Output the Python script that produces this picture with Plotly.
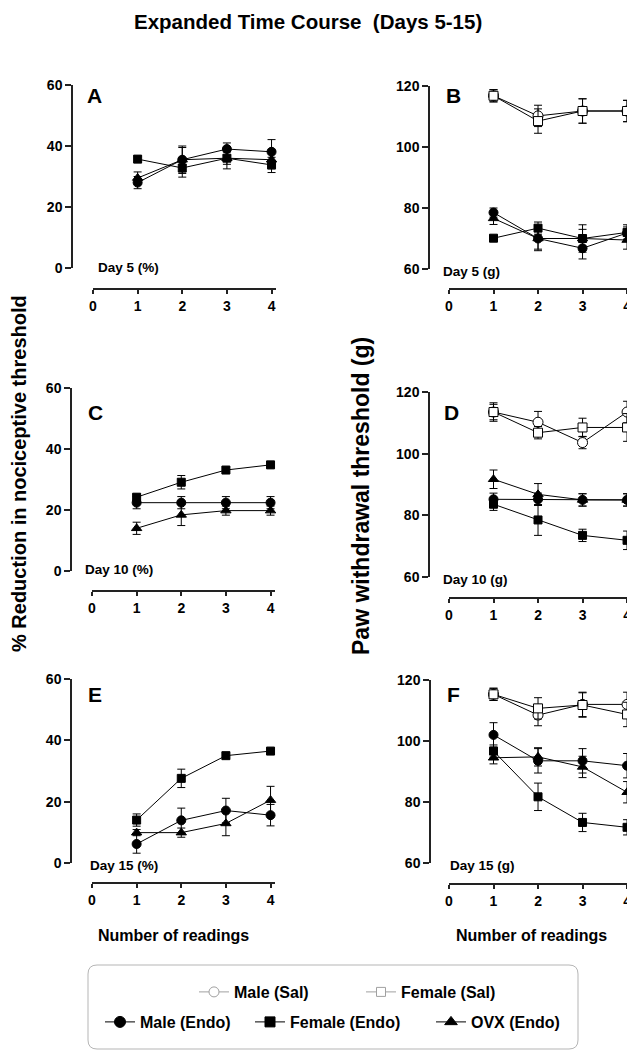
import plotly.graph_objects as go

# ---- data ----
readings = [1, 2, 3, 4]
x_ticks = [0, 1, 2, 3, 4]
series = ["Male (Sal)", "Female (Sal)", "Male (Endo)", "Female (Endo)", "OVX (Endo)"]

# A: Day 5 (%)
a_male_endo = [28.0, 35.5, 39.0, 38.1]
a_male_endo_err = [2.0, 4.5, 2.0, 4.0]
a_female_endo = [35.7, 32.8, 36.0, 33.8]
a_female_endo_err = [1.0, 3.0, 3.5, 2.5]
a_ovx_endo = [29.5, 35.5, 36.0, 35.5]
a_ovx_endo_err = [2.0, 4.0, 2.0, 3.0]

# B: Day 5 (g)
b_male_sal = [116.8, 110.2, 111.8, 111.8]
b_male_sal_err = [2.0, 3.5, 4.0, 3.5]
b_female_sal = [116.8, 108.5, 111.8, 111.8]
b_female_sal_err = [2.0, 4.0, 4.0, 3.5]
b_male_endo = [78.5, 70.0, 66.8, 71.8]
b_male_endo_err = [1.5, 4.0, 3.5, 2.0]
b_female_endo = [70.1, 73.4, 70.0, 72.0]
b_female_endo_err = [0.5, 2.0, 4.5, 2.5]
b_ovx_endo = [76.6, 70.0, 70.0, 69.5]
b_ovx_endo_err = [2.0, 3.5, 3.0, 3.0]

# C: Day 10 (%)
c_male_endo = [22.4, 22.4, 22.4, 22.4]
c_male_endo_err = [2.0, 2.0, 2.0, 2.0]
c_female_endo = [24.2, 29.1, 33.1, 34.8]
c_female_endo_err = [1.0, 2.2, 0.7, 1.0]
c_ovx_endo = [14.0, 18.4, 19.8, 19.8]
c_ovx_endo_err = [2.0, 3.5, 1.5, 1.5]

# D: Day 10 (g)
d_male_sal = [113.5, 110.2, 103.6, 113.5]
d_male_sal_err = [3.0, 3.5, 2.0, 3.5]
d_female_sal = [113.5, 106.8, 108.5, 108.5]
d_female_sal_err = [2.5, 2.0, 3.0, 4.5]
d_male_endo = [85.2, 85.2, 85.0, 85.0]
d_male_endo_err = [2.0, 2.0, 2.0, 2.0]
d_female_endo = [83.6, 78.5, 73.5, 71.9]
d_female_endo_err = [2.0, 5.0, 2.0, 3.0]
d_ovx_endo = [91.7, 86.8, 85.0, 85.0]
d_ovx_endo_err = [3.0, 3.5, 2.0, 2.0]

# E: Day 15 (%)
e_male_endo = [6.2, 13.9, 17.1, 15.6]
e_male_endo_err = [3.0, 4.0, 4.0, 3.5]
e_female_endo = [14.0, 27.6, 35.0, 36.5]
e_female_endo_err = [2.0, 3.0, 1.0, 0.8]
e_ovx_endo = [9.9, 9.9, 12.9, 20.5]
e_ovx_endo_err = [1.0, 1.5, 4.0, 4.5]

# F: Day 15 (g)
f_male_sal = [115.3, 108.5, 112.0, 112.0]
f_male_sal_err = [2.0, 3.5, 4.0, 4.0]
f_female_sal = [115.3, 110.7, 111.8, 108.7]
f_female_sal_err = [2.0, 3.5, 4.0, 4.0]
f_male_endo = [102.0, 93.5, 93.5, 91.9]
f_male_endo_err = [4.0, 4.0, 4.0, 4.0]
f_female_endo = [96.7, 81.7, 73.3, 71.7]
f_female_endo_err = [2.0, 4.5, 3.0, 2.5]
f_ovx_endo = [94.5, 94.8, 91.5, 83.2]
f_ovx_endo_err = [2.0, 3.0, 3.5, 3.5]

W, H = 635, 1050
OFF = 8  # page body margin
FONT = "Liberation Sans"


def fx(p):
    return (p - OFF) / W


def fy(p):
    return 1 - (p - OFF) / H


def bold(size):
    return dict(family=FONT, size=size, color="black", weight="bold")


styles = {
    "Male (Sal)": dict(symbol="circle", color="white", size=10),
    "Female (Sal)": dict(symbol="square", color="white", size=9),
    "Male (Endo)": dict(symbol="circle", color="black", size=9),
    "Female (Endo)": dict(symbol="square", color="black", size=8),
    "OVX (Endo)": dict(symbol="triangle-up", color="black", size=9),
}

# letter, day label, x-domain px, y-domain px (bottom, top), y-axis px, x-axis px,
# y range, letter pos, day label pos, data
panels = [
    ("A", "Day 5 (%)", (93, 276), (268, 85), 72, 289, [0, 60], (85, 95), (96, 267),
     {"Male (Endo)": (a_male_endo, a_male_endo_err),
      "Female (Endo)": (a_female_endo, a_female_endo_err),
      "OVX (Endo)": (a_ovx_endo, a_ovx_endo_err)}),
    ("B", "Day 5 (g)", (449, 631.5), (269, 86), 429, 289, [60, 120], (444, 95), (441, 271),
     {"Male (Sal)": (b_male_sal, b_male_sal_err),
      "Female (Sal)": (b_female_sal, b_female_sal_err),
      "Male (Endo)": (b_male_endo, b_male_endo_err),
      "Female (Endo)": (b_female_endo, b_female_endo_err),
      "OVX (Endo)": (b_ovx_endo, b_ovx_endo_err)}),
    ("C", "Day 10 (%)", (92, 275), (571, 388), 71, 591, [0, 60], (86, 413), (83, 569),
     {"Male (Endo)": (c_male_endo, c_male_endo_err),
      "Female (Endo)": (c_female_endo, c_female_endo_err),
      "OVX (Endo)": (c_ovx_endo, c_ovx_endo_err)}),
    ("D", "Day 10 (g)", (449, 631.5), (577, 392), 429, 598, [60, 120], (442, 412), (441, 579),
     {"Male (Sal)": (d_male_sal, d_male_sal_err),
      "Female (Sal)": (d_female_sal, d_female_sal_err),
      "Male (Endo)": (d_male_endo, d_male_endo_err),
      "Female (Endo)": (d_female_endo, d_female_endo_err),
      "OVX (Endo)": (d_ovx_endo, d_ovx_endo_err)}),
    ("E", "Day 15 (%)", (92, 275), (863, 679), 71, 883, [0, 60], (86, 694), (88, 865),
     {"Male (Endo)": (e_male_endo, e_male_endo_err),
      "Female (Endo)": (e_female_endo, e_female_endo_err),
      "OVX (Endo)": (e_ovx_endo, e_ovx_endo_err)}),
    ("F", "Day 15 (g)", (449, 631.5), (863, 680), 430, 884, [60, 120], (445, 694), (448, 865),
     {"Male (Sal)": (f_male_sal, f_male_sal_err),
      "Female (Sal)": (f_female_sal, f_female_sal_err),
      "Male (Endo)": (f_male_endo, f_male_endo_err),
      "Female (Endo)": (f_female_endo, f_female_endo_err),
      "OVX (Endo)": (f_ovx_endo, f_ovx_endo_err)}),
]

fig = go.Figure()
annotations = []
tick_font = bold(14)


def note(text, x, y, size, xanchor="center", angle=0):
    annotations.append(dict(text=text, x=fx(x), y=fy(y), xref="paper", yref="paper",
                            xanchor=xanchor, yanchor="middle", textangle=angle,
                            showarrow=False, font=bold(size)))


for i, (letter, day, xdom, ydom, ypos, xpos, yrange, lpos, dpos, data) in enumerate(panels):
    n = "" if i == 0 else str(i + 1)
    for name, (vals, errs) in data.items():
        st = styles[name]
        fig.add_trace(go.Scatter(
            x=readings, y=vals, mode="lines+markers", name=name, showlegend=False,
            xaxis="x" + n, yaxis="y" + n, cliponaxis=False,
            line=dict(color="black", width=1),
            marker=dict(symbol=st["symbol"], size=st["size"], color=st["color"],
                        line=dict(color="black", width=1)),
            error_y=dict(type="data", array=errs, color="black", thickness=1, width=4),
        ))
    fig.update_layout({
        "xaxis" + n: dict(domain=[fx(xdom[0]), fx(xdom[1])], range=[0, 4.1],
                          anchor="free", position=fy(xpos), tickvals=x_ticks,
                          showline=True, linecolor="#222", linewidth=1.5,
                          ticks="outside", ticklen=4, tickwidth=1.5, tickcolor="#222",
                          showgrid=False, zeroline=False, automargin=False,
                          tickfont=tick_font),
        "yaxis" + n: dict(domain=[fy(ydom[0]), fy(ydom[1])], range=yrange,
                          anchor="free", position=fx(ypos),
                          tickvals=list(range(yrange[0], yrange[1] + 1, 20)),
                          showline=True, linecolor="#222", linewidth=1.5,
                          ticks="outside", ticklen=6, tickwidth=1.5, tickcolor="#222",
                          showgrid=False, zeroline=False, automargin=False,
                          tickfont=tick_font),
    })
    note(letter, lpos[0], lpos[1], 21, xanchor="left")
    note(day, dpos[0], dpos[1], 13.5, xanchor="left")

note("Expanded Time Course  (Days 5-15)", 308, 21, 20.5)
note("% Reduction in nociceptive threshold", 19, 474, 20, angle=-90)
note("Paw withdrawal threshold (g)", 361, 496, 23, angle=-90)
note("Number of readings", 173, 935, 16)
note("Number of readings", 531, 935, 16)

# legend: one single-entry legend per series, placed like the original box
legend_pos = {
    "Male (Sal)": (214, 992),
    "Female (Sal)": (381, 992),
    "Male (Endo)": (120, 1022),
    "Female (Endo)": (270, 1022),
    "OVX (Endo)": (451, 1022),
}
legend_layout = {}
for k, name in enumerate(series):
    st = styles[name]
    lname = "legend" if k == 0 else "legend" + str(k + 1)
    sal = "Sal" in name
    col = "#a0a0a0" if sal else "black"
    fig.add_trace(go.Scatter(
        x=[None], y=[None], mode="lines+markers", name=name, legend=lname,
        line=dict(color=col, width=1),
        marker=dict(symbol=st["symbol"], size=st["size"] + (0 if sal else 2),
                    color="white" if sal else "black",
                    line=dict(color=col, width=1)),
    ))
    cx, cy = legend_pos[name]
    legend_layout[lname] = dict(x=fx(cx - 20), y=fy(cy), xanchor="left", yanchor="middle",
                                bgcolor="rgba(0,0,0,0)", borderwidth=0, font=bold(16))

# rounded legend frame
x0, x1, y0, y1, r = 88, 578, 965, 1049, 9
path = (f"M {fx(x0 + r)} {fy(y0)} L {fx(x1 - r)} {fy(y0)} Q {fx(x1)} {fy(y0)} {fx(x1)} {fy(y0 + r)} "
        f"L {fx(x1)} {fy(y1 - r)} Q {fx(x1)} {fy(y1)} {fx(x1 - r)} {fy(y1)} "
        f"L {fx(x0 + r)} {fy(y1)} Q {fx(x0)} {fy(y1)} {fx(x0)} {fy(y1 - r)} "
        f"L {fx(x0)} {fy(y0 + r)} Q {fx(x0)} {fy(y0)} {fx(x0 + r)} {fy(y0)} Z")

fig.update_layout(
    template="none",
    width=W, height=H, margin=dict(l=0, r=0, t=0, b=0, autoexpand=False),
    paper_bgcolor="white", plot_bgcolor="white",
    annotations=annotations,
    shapes=[dict(type="path", path=path, xref="paper", yref="paper",
                 line=dict(color="#b5b5b5", width=1))],
    **legend_layout,
)

fig.write_html("out.html")
